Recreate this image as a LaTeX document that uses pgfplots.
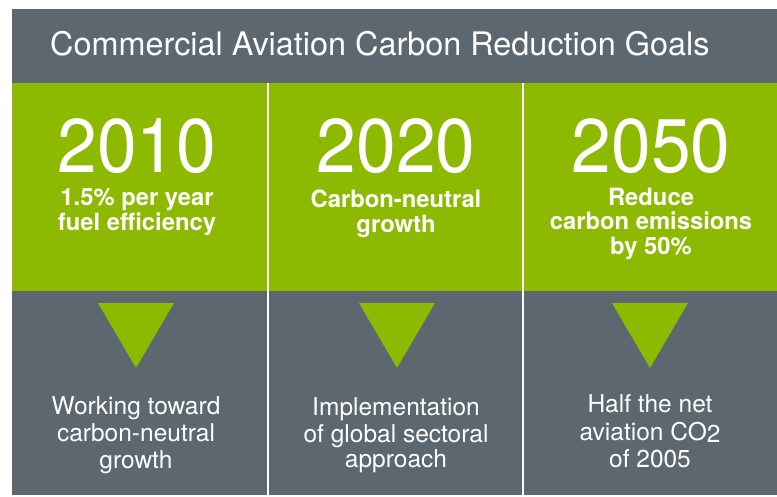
\documentclass[border=0pt]{standalone}
\usepackage{pgfplots}
\pgfplotsset{compat=1.18}
\usepackage{fontspec}
\setmainfont{TeX Gyre Heros}
\definecolor{slate}{RGB}{92,103,112}
\definecolor{leaf}{RGB}{141,186,0}
\newcommand{\yr}[1]{\scalebox{0.94}[1]{#1}}
\begin{document}
\begin{tikzpicture}
\begin{axis}[
  width=777pt, height=495pt, scale only axis,
  xmin=0, xmax=777, ymin=0, ymax=495, y dir=reverse,
  hide axis, clip=false,
]
% background panels
\addplot[fill=white, draw=none] coordinates {(0,0) (777,0) (777,495) (0,495)} -- cycle;
\addplot[fill=slate, draw=none] coordinates {(12,9) (777,9) (777,495) (12,495)} -- cycle;
\addplot[fill=leaf, draw=none] coordinates {(12,83) (777,83) (777,291) (12,291)} -- cycle;
% dividers
\addplot[white, line width=2pt] coordinates {(268,83) (268,495)};
\addplot[white, line width=2pt] coordinates {(523,83) (523,495)};
% arrows
\addplot[fill=leaf, draw=none] coordinates {(98,303) (174,303) (136,368)} -- cycle;
\addplot[fill=leaf, draw=none] coordinates {(359,303) (435,303) (397,368)} -- cycle;
\addplot[fill=leaf, draw=none] coordinates {(612,303) (688,303) (650,368)} -- cycle;
% title
\node[anchor=base west, text=white, inner sep=0pt, font=\fontsize{32.4}{36}\selectfont] at (axis cs:50,55) {Commercial Aviation Carbon Reduction Goals};
% years
\node[anchor=base, text=white, inner sep=0pt, font=\fontsize{76}{80}\selectfont] at (axis cs:137,172) {\yr{2010}};
\node[anchor=base, text=white, inner sep=0pt, font=\fontsize{76}{80}\selectfont] at (axis cs:396,172) {\yr{2020}};
\node[anchor=base, text=white, inner sep=0pt, font=\fontsize{76}{80}\selectfont] at (axis cs:651,172) {\yr{2050}};
% goals
\node[anchor=base, text=white, inner sep=0pt, font=\bfseries\fontsize{23.8}{25}\selectfont] at (axis cs:137,205) {1.5\% per year};
\node[anchor=base, text=white, inner sep=0pt, font=\bfseries\fontsize{23.8}{25}\selectfont] at (axis cs:137,230) {fuel efficiency};
\node[anchor=base, text=white, inner sep=0pt, font=\bfseries\fontsize{23.8}{25}\selectfont] at (axis cs:396,207) {Carbon-neutral};
\node[anchor=base, text=white, inner sep=0pt, font=\bfseries\fontsize{23.8}{25}\selectfont] at (axis cs:396,232) {growth};
\node[anchor=base, text=white, inner sep=0pt, font=\bfseries\fontsize{23.8}{25}\selectfont] at (axis cs:651,205) {Reduce};
\node[anchor=base, text=white, inner sep=0pt, font=\bfseries\fontsize{23.8}{25}\selectfont] at (axis cs:651,229) {carbon emissions};
\node[anchor=base, text=white, inner sep=0pt, font=\bfseries\fontsize{23.8}{25}\selectfont] at (axis cs:651,254) {by 50\%};
% descriptions
\node[anchor=base, text=white, inner sep=0pt, font=\fontsize{24.5}{27}\selectfont] at (axis cs:136,414) {Working toward};
\node[anchor=base, text=white, inner sep=0pt, font=\fontsize{24.5}{27}\selectfont] at (axis cs:136,441) {carbon-neutral};
\node[anchor=base, text=white, inner sep=0pt, font=\fontsize{24.5}{27}\selectfont] at (axis cs:136,468) {growth};
\node[anchor=base, text=white, inner sep=0pt, font=\fontsize{24.5}{27}\selectfont] at (axis cs:396,415) {Implementation};
\node[anchor=base, text=white, inner sep=0pt, font=\fontsize{24.5}{27}\selectfont] at (axis cs:396,442) {of global sectoral};
\node[anchor=base, text=white, inner sep=0pt, font=\fontsize{24.5}{27}\selectfont] at (axis cs:396,467) {approach};
\node[anchor=base, text=white, inner sep=0pt, font=\fontsize{24.5}{27}\selectfont] at (axis cs:650,412) {Half the net};
\node[anchor=base, text=white, inner sep=0pt, font=\fontsize{24.5}{27}\selectfont] at (axis cs:650,440) {aviation CO\raisebox{-0.2ex}{2}};
\node[anchor=base, text=white, inner sep=0pt, font=\fontsize{24.5}{27}\selectfont] at (axis cs:650,467) {of 2005};
\end{axis}
\end{tikzpicture}
\end{document}
